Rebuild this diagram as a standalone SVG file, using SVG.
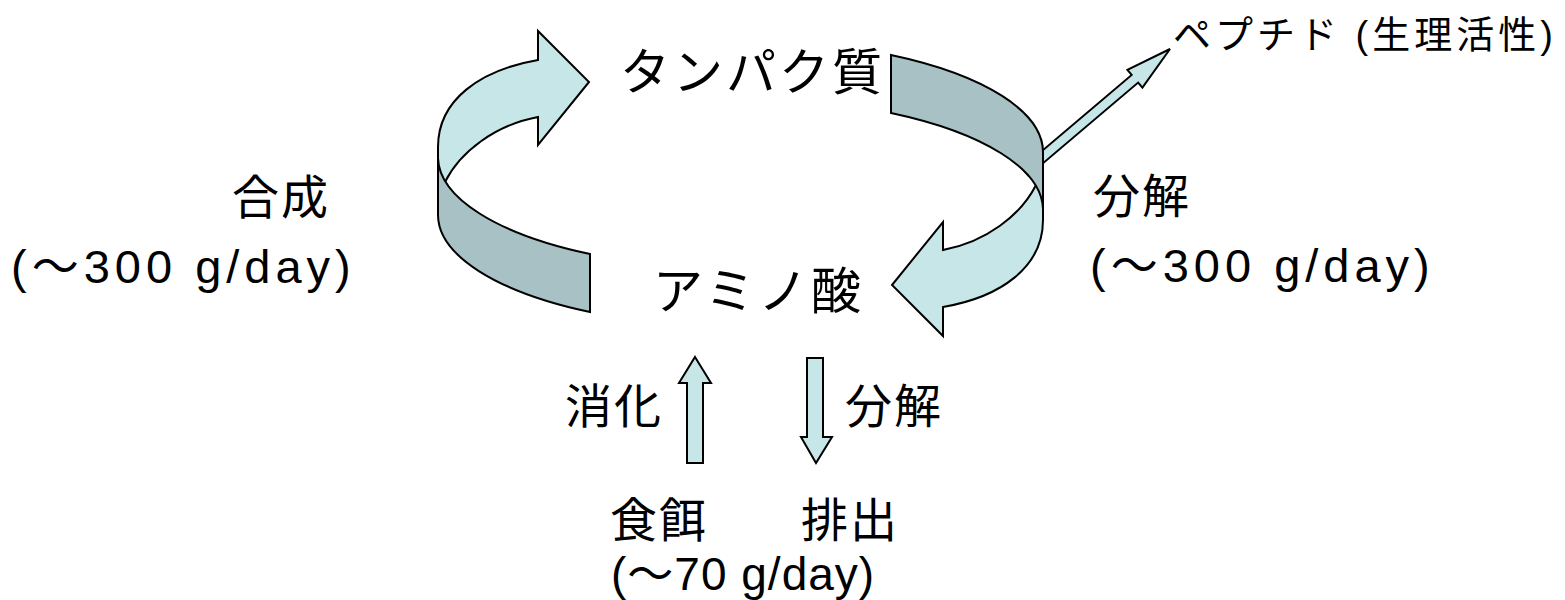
<svg xmlns="http://www.w3.org/2000/svg" width="1565" height="600" viewBox="0 0 1565 600">
<style>
.lt{fill:#C6E6E8;stroke:#000;stroke-width:2;stroke-linejoin:miter}
.dk{fill:#A7C1C4;stroke:#000;stroke-width:2}
.t{font-family:"Liberation Sans","Noto Sans CJK JP",sans-serif;fill:#000}
.w{font-family:"Noto Sans CJK JP",sans-serif}
.big{font-size:50px;letter-spacing:3px}
.mid{font-size:47px;letter-spacing:2px}
.num{font-size:47px;letter-spacing:5px}
.num2{font-size:46px;letter-spacing:1px}
.sm{font-size:38px;letter-spacing:4px}
</style>
<defs>
<g id="half">
<path class="lt" d="M438,200 L438,147 C438,100 480,70 538,60 L538,31 L589,82 L538,145 L538,117 C495,125 460,152 445,182 Z"/>
<path class="dk" d="M438,158 A302.5,112 0 0 0 590,254 L590,312 A302.5,112 0 0 1 438,215 Z"/>
</g>
</defs>
<g id="connectors">
<polygon id="peptide-arrow" class="lt" transform="translate(1170,49) rotate(-40.3)" points="0,0 -46,-11.6 -46,-5 -190,-5 -190,5 -46,5 -46,11.6"/>
<g id="synthesis-arrow"><use href="#half"/></g>
<g id="degradation-arrow"><use href="#half" transform="rotate(180 740.5 183.5)"/></g>
<polygon id="digestion-arrow" class="lt" points="695,357 711,383 703,383 703,463 687,463 687,383 679,383"/>
<polygon id="excretion-arrow" class="lt" points="807,358 823,358 823,437 832,437 816,463 801,437 807,437"/>
</g>
<g id="protein"><text class="t big" x="620" y="90">タンパク質</text></g>
<g id="aminoacid"><text class="t big" x="653" y="309">アミノ酸</text></g>
<g id="synthesis"><text class="t mid" x="232" y="214">合成</text><text class="t num" x="11" y="283">(<tspan class="w">〜</tspan>300 g/day)</text></g>
<g id="degradation"><text class="t mid" x="1093" y="213">分解</text><text class="t num" x="1090" y="282">(<tspan class="w">〜</tspan>300 g/day)</text></g>
<g id="peptide"><text class="t sm" x="1173" y="48">ペプチド (生理活性)</text></g>
<g id="digestion"><text class="t mid" x="565" y="423">消化</text></g>
<g id="excretion-deg"><text class="t mid" x="845" y="423">分解</text></g>
<g id="food"><text class="t mid" x="610" y="537">食餌</text><text class="t num2" x="611" y="590">(<tspan class="w">〜</tspan>70 g/day)</text></g>
<g id="excretion"><text class="t mid" x="801" y="537">排出</text></g>
</svg>
